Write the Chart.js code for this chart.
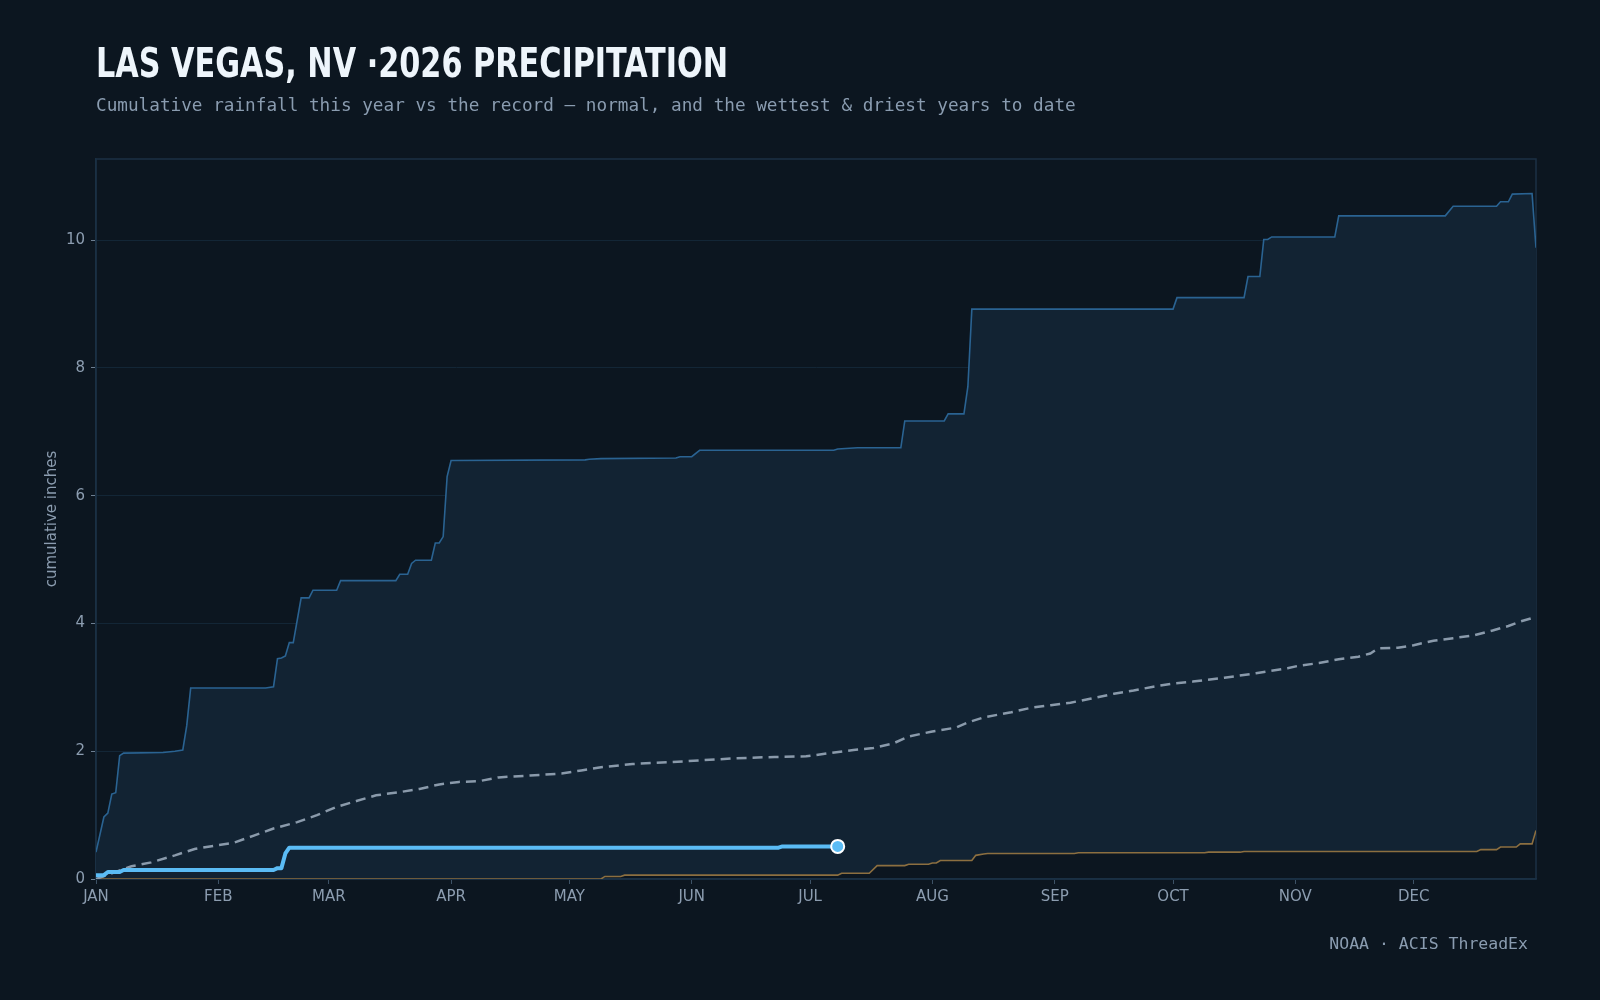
<!DOCTYPE html>
<html>
<head>
<meta charset="utf-8">
<title>Las Vegas 2026 precipitation</title>
<script src="https://cdn.jsdelivr.net/npm/chart.js@4.4.1/dist/chart.umd.min.js"></script>
<style>
  html, body { margin: 0; padding: 0; background: #0c1620; width: 1600px; height: 1000px; overflow: hidden; }
  #chart { position: absolute; left: 0; top: 0; }
  .title { position: absolute; left: 96px; top: 43px; margin: 0; white-space: nowrap; transform-origin: 0 0;
    font-family: "Liberation Sans Narrow", "DejaVu Sans Condensed", sans-serif; font-weight: bold;
    font-size: 41px; line-height: 41px; color: #eef5fb; }
  .subtitle { position: absolute; left: 96px; top: 97px; margin: 0; white-space: nowrap;
    font-family: "DejaVu Sans Mono", monospace; font-size: 17.7px; line-height: 17.7px; color: #8a9cb0; }
  .source { position: absolute; right: 72px; top: 936px; margin: 0; white-space: nowrap;
    font-family: "DejaVu Sans Mono", monospace; font-size: 16.5px; line-height: 16.5px; color: #8a9cb0; }
</style>
</head>
<body>
<canvas id="chart" width="1600" height="1000"></canvas>
<div class="title" id="title">LAS VEGAS, NV ·2026 PRECIPITATION</div>
<div class="subtitle">Cumulative rainfall this year vs the record — normal, and the wettest &amp; driest years to date</div>
<div class="source">NOAA · ACIS ThreadEx</div>
<script>
// ---- Data (day of year, 0 = Jan 1) ----
const monthStarts = [0, 31, 59, 90, 120, 151, 181, 212, 243, 273, 304, 334];
const monthLabels = ['JAN','FEB','MAR','APR','MAY','JUN','JUL','AUG','SEP','OCT','NOV','DEC'];
const yTicks = [0, 2, 4, 6, 8, 10];

// This year (2026) cumulative inches
const currentDays = [0, 2, 3, 6, 7, 45, 46, 47, 48, 49, 173, 174, 188];
const currentVals = [0.06, 0.06, 0.11, 0.11, 0.14, 0.14, 0.17, 0.17, 0.40, 0.49, 0.49, 0.51, 0.51];

// Normal cumulative
const normalDays = [0, 9, 14, 20, 25, 30, 35, 40, 45, 51, 56, 61, 66, 71, 77, 82, 87, 92, 97, 102, 110, 118, 123, 128, 136, 146, 154, 162, 172, 180, 186, 192, 197, 202, 206, 212, 218, 221, 225, 232, 237, 242, 247, 252, 258, 263, 268, 273, 278, 286, 294, 302, 305, 310, 315, 320, 323, 325, 330, 334, 339, 344, 349, 354, 358, 361, 365];
const normalVals = [0.00, 0.20, 0.26, 0.37, 0.47, 0.52, 0.57, 0.68, 0.79, 0.89, 1.00, 1.13, 1.22, 1.31, 1.36, 1.41, 1.48, 1.52, 1.53, 1.59, 1.62, 1.65, 1.70, 1.75, 1.80, 1.83, 1.86, 1.89, 1.91, 1.92, 1.97, 2.02, 2.05, 2.12, 2.23, 2.31, 2.37, 2.45, 2.53, 2.61, 2.68, 2.72, 2.76, 2.82, 2.90, 2.95, 3.01, 3.06, 3.09, 3.15, 3.22, 3.30, 3.34, 3.38, 3.44, 3.48, 3.53, 3.61, 3.62, 3.66, 3.73, 3.77, 3.81, 3.89, 3.96, 4.03, 4.10];

// Wettest year to date
const wettestDays = [0, 2, 3, 4, 5, 6, 7, 17, 20, 22, 23, 24, 43, 45, 46, 47, 48, 49, 50, 52, 54, 55, 61, 62, 76, 77, 79, 80, 81, 85, 86, 87, 88, 89, 90, 124, 125, 128, 147, 148, 151, 153, 187, 188, 193, 204, 205, 215, 216, 220, 221, 222, 273, 274, 291, 292, 295, 296, 297, 298, 314, 315, 342, 344, 355, 356, 358, 359, 364, 365];
const wettestVals = [0.42, 0.97, 1.03, 1.33, 1.35, 1.93, 1.97, 1.98, 2.00, 2.02, 2.40, 2.99, 2.99, 3.01, 3.45, 3.46, 3.49, 3.70, 3.70, 4.40, 4.40, 4.52, 4.52, 4.67, 4.67, 4.77, 4.77, 4.94, 4.99, 4.99, 5.26, 5.26, 5.36, 6.30, 6.55, 6.56, 6.57, 6.58, 6.59, 6.61, 6.61, 6.71, 6.71, 6.73, 6.75, 6.75, 7.17, 7.17, 7.28, 7.28, 7.71, 8.92, 8.92, 9.10, 9.10, 9.43, 9.43, 10.01, 10.01, 10.05, 10.05, 10.38, 10.38, 10.53, 10.53, 10.60, 10.60, 10.72, 10.73, 9.88];

// Driest year to date
const driestDays = [0, 128, 129, 133, 134, 188, 189, 196, 198, 205, 206, 211, 212, 213, 214, 222, 223, 225, 226, 248, 249, 281, 282, 290, 291, 350, 351, 355, 356, 360, 361, 364, 365];
const driestVals = [0.00, 0.00, 0.04, 0.04, 0.06, 0.06, 0.09, 0.09, 0.21, 0.21, 0.23, 0.23, 0.25, 0.25, 0.29, 0.29, 0.37, 0.39, 0.40, 0.40, 0.41, 0.41, 0.42, 0.42, 0.43, 0.43, 0.46, 0.46, 0.50, 0.50, 0.55, 0.55, 0.76];

const yMax = 11.27;
const xMax = 365;

// Fit the title to the reference's width
const titleWidth = 632;
function fitTitle() {
  const t = document.getElementById('title');
  t.style.transform = 'none';
  const w = t.getBoundingClientRect().width;
  if (w > 0) t.style.transform = 'scaleX(' + (titleWidth / w) + ')';
}
fitTitle();
if (document.fonts && document.fonts.ready) document.fonts.ready.then(fitTitle);

const pts = (xs, ys) => xs.map((x, i) => ({ x: x, y: ys[i] }));

const tickColor = '#8c9db0';
const tickFont = { family: 'DejaVu Sans', size: 15 };

const frame = {
  id: 'frame',
  beforeDatasetsDraw(chart) {
    const a = chart.chartArea, c = chart.ctx;
    c.save();
    c.strokeStyle = '#1b3044';
    c.lineWidth = 1.5;
    c.strokeRect(a.left, a.top, a.right - a.left, a.bottom - a.top);
    c.restore();
  }
};

new Chart(document.getElementById('chart'), {
  type: 'line',
  data: {
    datasets: [
      {
        label: '2026',
        data: pts(currentDays, currentVals),
        borderColor: '#5bbcf5',
        borderWidth: 4,
        borderJoinStyle: 'round',
        borderCapStyle: 'round',
        fill: false,
        pointRadius: ctx => (ctx.dataIndex === currentDays.length - 1 ? 6.5 : 0),
        pointBackgroundColor: '#5bbcf5',
        pointBorderColor: '#ffffff',
        pointBorderWidth: 2,
        order: 0
      },
      {
        label: 'Normal',
        data: pts(normalDays, normalVals),
        borderColor: '#8a9aab',
        borderWidth: 2.5,
        borderDash: [10, 6],
        fill: false,
        pointRadius: 0,
        order: 1
      },
      {
        label: 'Wettest',
        data: pts(wettestDays, wettestVals),
        borderColor: '#2a6392',
        borderWidth: 1.6,
        backgroundColor: '#122333',
        fill: { target: 3, above: '#122333', below: '#122333' },
        pointRadius: 0,
        order: 3
      },
      {
        label: 'Driest',
        data: pts(driestDays, driestVals),
        borderColor: '#8c6f40',
        borderWidth: 1.6,
        fill: false,
        pointRadius: 0,
        order: 2
      }
    ]
  },
  options: {
    responsive: false,
    animation: false,
    devicePixelRatio: 1,
    layout: { padding: { left: 0, right: 64, top: 159, bottom: 81 } },
    elements: { line: { tension: 0 } },
    plugins: { legend: { display: false }, tooltip: { enabled: false } },
    scales: {
      x: {
        type: 'linear',
        min: 0,
        max: xMax,
        afterBuildTicks: s => { s.ticks = monthStarts.map(v => ({ value: v })); },
        afterFit: s => { s.height = 40; },
        grid: { drawOnChartArea: false, drawTicks: true, tickLength: 5, tickColor: '#3d5266', color: '#1b3044' },
        border: { display: true, color: '#1b3044', width: 1.5 },
        ticks: {
          color: tickColor, font: tickFont, padding: 4, autoSkip: false, maxRotation: 0, minRotation: 0,
          callback: (v, i) => monthLabels[i]
        }
      },
      y: {
        min: 0,
        max: yMax,
        afterBuildTicks: s => { s.ticks = yTicks.map(v => ({ value: v })); },
        afterFit: s => { s.width = 96; },
        grid: { color: '#132636', lineWidth: 1, drawTicks: true, tickLength: 5, tickColor: '#6d7f92' },
        border: { display: true, color: '#1b3044', width: 1.5 },
        ticks: { color: tickColor, font: tickFont, padding: 6 },
        title: {
          display: true, text: 'cumulative inches', color: tickColor, font: tickFont,
          padding: { top: 43, bottom: 0 }
        }
      }
    }
  },
  plugins: [frame]
});
</script>
</body>
</html>
